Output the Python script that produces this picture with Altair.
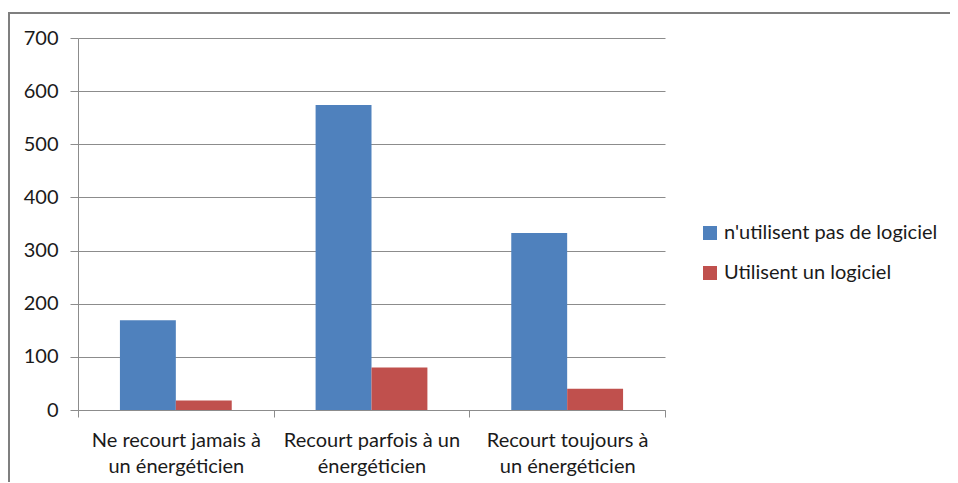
import altair as alt
import pandas as pd

categories = [
    "Ne recourt jamais à\nun énergéticien",
    "Recourt parfois à un\nénergéticien",
    "Recourt toujours à\nun énergéticien",
]
series = ["n'utilisent pas de logiciel", "Utilisent un logiciel"]
no_software = [169, 574, 333]
with_software = [18, 80, 40]
colors = ["#4F81BD", "#C0504D"]
y_ticks = [0, 100, 200, 300, 400, 500, 600, 700]

rows = []
for i, c in enumerate(categories):
    rows.append({"cat": c, "serie": series[0], "val": no_software[i]})
    rows.append({"cat": c, "serie": series[1], "val": with_software[i]})
df = pd.DataFrame(rows)

FONT = "Lato"
GRID = "#8c8c8c"
TXT = "#1a1a1a"
FS = 20

bars = alt.Chart(df).mark_bar().encode(
    x=alt.X("cat:N", sort=categories, title=None,
            scale=alt.Scale(paddingInner=0, paddingOuter=0),
            axis=alt.Axis(labelExpr="datum.value ? split(datum.value, '\\n') : ''",
                          labelAngle=0,
                          labelFontSize=FS, labelFont=FONT, labelColor=TXT,
                          labelLineHeight=26, labelPadding=13, labelBaseline="top",
                          labelLimit=300,
                          tickBand="extent", tickSize=7, tickColor=GRID,
                          domainColor=GRID, grid=False)),
    xOffset=alt.XOffset("serie:N", sort=series,
                        scale=alt.Scale(paddingInner=0, paddingOuter=0.75)),
    y=alt.Y("val:Q", title=None,
            scale=alt.Scale(domain=[0, 700]),
            axis=alt.Axis(values=y_ticks, labelFontSize=FS, labelFont=FONT,
                          labelColor=TXT, labelPadding=12,
                          tickSize=8, tickColor=GRID, domainColor=GRID,
                          gridColor=GRID, gridOpacity=1)),
    color=alt.Color("serie:N", sort=series,
                    scale=alt.Scale(domain=series, range=colors),
                    legend=alt.Legend(title=None, orient="none", legendX=622, legendY=185,
                                      symbolType="square", symbolSize=196,
                                      symbolStrokeWidth=0, symbolOpacity=1,
                                      labelFontSize=FS, labelFont=FONT,
                                      labelColor=TXT, rowPadding=20,
                                      labelOffset=4, labelLimit=320)),
)

frame_top = alt.Chart(df).mark_rule(color="#7f7f7f", strokeWidth=2).encode(
    x=alt.value(-70), x2=alt.value(900), y=alt.value(-25))
frame_left = alt.Chart(df).mark_rule(color="#7f7f7f", strokeWidth=2).encode(
    x=alt.value(-69), y=alt.value(-25), y2=alt.value(450))

chart = alt.layer(frame_top, frame_left, bars).properties(
    width=587, height=372,
    padding={"left": 70, "top": 30, "right": 285, "bottom": 72},
    autosize=alt.AutoSizeParams(type="none"),
    background="white",
).configure_view(stroke=None)

chart.save("out.html", embed_options={"renderer": "svg", "actions": False})
